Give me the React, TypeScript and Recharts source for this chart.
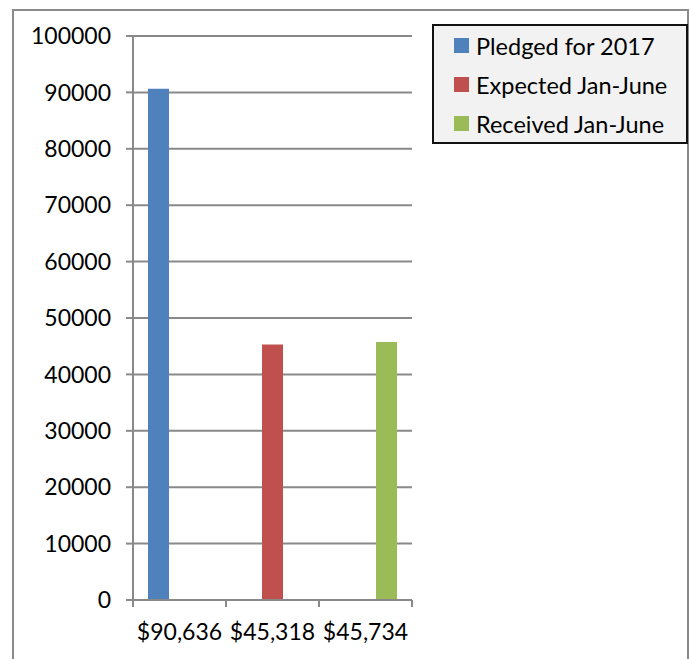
import React from 'react';
import { BarChart, Bar, XAxis, YAxis, CartesianGrid, Legend } from 'recharts';

const categories = ['$90,636', '$45,318', '$45,734'];
const pledged = [90636, 0, 0];
const expected = [0, 45318, 0];
const received = [0, 0, 45734];
const yTicks = [0, 10000, 20000, 30000, 40000, 50000, 60000, 70000, 80000, 90000, 100000];

const seriesNames = ['Pledged for 2017', 'Expected Jan-June', 'Received Jan-June'];
const seriesColors = ['#4f81bd', '#c0504d', '#9bbb59'];

const data = categories.map((c, i) => ({
  cat: c,
  pledged: pledged[i],
  expected: expected[i],
  received: received[i],
}));

const FONT = 'Lato, "Noto Sans", sans-serif';
const AXIS = '#898989';
const X_TICK_SIZE = 7;
const X_TICK_MARGIN = 17;

const XTick = (props: any) => {
  const { x, y, payload, index, visibleTicksCount, width } = props;
  const half = payload && typeof payload.offset === 'number' && payload.offset > 0
    ? payload.offset
    : width / visibleTicksCount / 2;
  const axisY = y - X_TICK_SIZE - X_TICK_MARGIN;
  const left = payload.coordinate - half;
  const right = payload.coordinate + half;
  return (
    <g>
      <line x1={left} x2={left} y1={axisY} y2={axisY + X_TICK_SIZE} stroke={AXIS} strokeWidth={2} />
      {index === visibleTicksCount - 1 && (
        <line x1={right} x2={right} y1={axisY} y2={axisY + X_TICK_SIZE} stroke={AXIS} strokeWidth={2} />
      )}
      <text x={x} y={y} dy="0.71em" textAnchor="middle" fill="#000" fontSize={23} fontFamily={FONT}>
        {payload.value}
      </text>
    </g>
  );
};

const LegendBox = (props: any) => {
  const items = [...(props.payload || [])].sort(
    (a: any, b: any) => seriesNames.indexOf(a.value) - seriesNames.indexOf(b.value)
  );
  return (
    <div
      style={{
        boxSizing: 'border-box',
        width: 256,
        height: 120,
        border: '2px solid #111',
        background: '#f2f2f2',
        paddingLeft: 20,
        fontFamily: FONT,
        fontSize: 23.5,
        color: '#000',
      }}
    >
      {items.map((p: any, i: number) => (
        <div key={i} style={{ height: 39, display: 'flex', alignItems: 'center', whiteSpace: 'nowrap' }}>
          <span style={{ display: 'inline-block', width: 15, height: 15, background: p.color, marginRight: 7 }} />
          <span>{p.value}</span>
        </div>
      ))}
    </div>
  );
};

export default function App() {
  return (
    <div style={{ position: 'absolute', left: 0, top: 0, width: 691, height: 659, overflow: 'hidden', background: '#fff' }}>
      <div
        style={{
          position: 'absolute',
          left: 12,
          top: 9,
          width: 677,
          height: 700,
          boxSizing: 'border-box',
          border: '2px solid #8a8a8a',
        }}
      />
      <div style={{ position: 'absolute', left: 0, top: 0 }}>
        <BarChart
          width={691}
          height={659}
          data={data}
          margin={{ top: 36, right: 279, bottom: 0, left: 0 }}
          barCategoryGap={15}
          barGap={0}
        >
          <CartesianGrid horizontal vertical={false} stroke={AXIS} strokeWidth={2} />
          <XAxis
            dataKey="cat"
            height={59}
            axisLine={{ stroke: AXIS, strokeWidth: 2 }}
            tickLine={false}
            tickSize={X_TICK_SIZE}
            tickMargin={X_TICK_MARGIN}
            tick={<XTick />}
            interval={0}
          />
          <YAxis
            width={133}
            domain={[0, 100000]}
            ticks={yTicks}
            interval={0}
            axisLine={{ stroke: AXIS, strokeWidth: 2 }}
            tickLine={{ stroke: AXIS, strokeWidth: 2 }}
            tickSize={7}
            tickMargin={15}
            tick={{ fill: '#000', fontSize: 23, fontFamily: FONT }}
          />
          <Legend
            layout="horizontal"
            verticalAlign="middle"
            align="center"
            content={<LegendBox />}
            wrapperStyle={{ left: 432, top: 24, width: 256, height: 120 }}
          />
          <Bar dataKey="pledged" name={seriesNames[0]} fill={seriesColors[0]} isAnimationActive={false} />
          <Bar dataKey="expected" name={seriesNames[1]} fill={seriesColors[1]} isAnimationActive={false} />
          <Bar dataKey="received" name={seriesNames[2]} fill={seriesColors[2]} isAnimationActive={false} />
        </BarChart>
      </div>
    </div>
  );
}
